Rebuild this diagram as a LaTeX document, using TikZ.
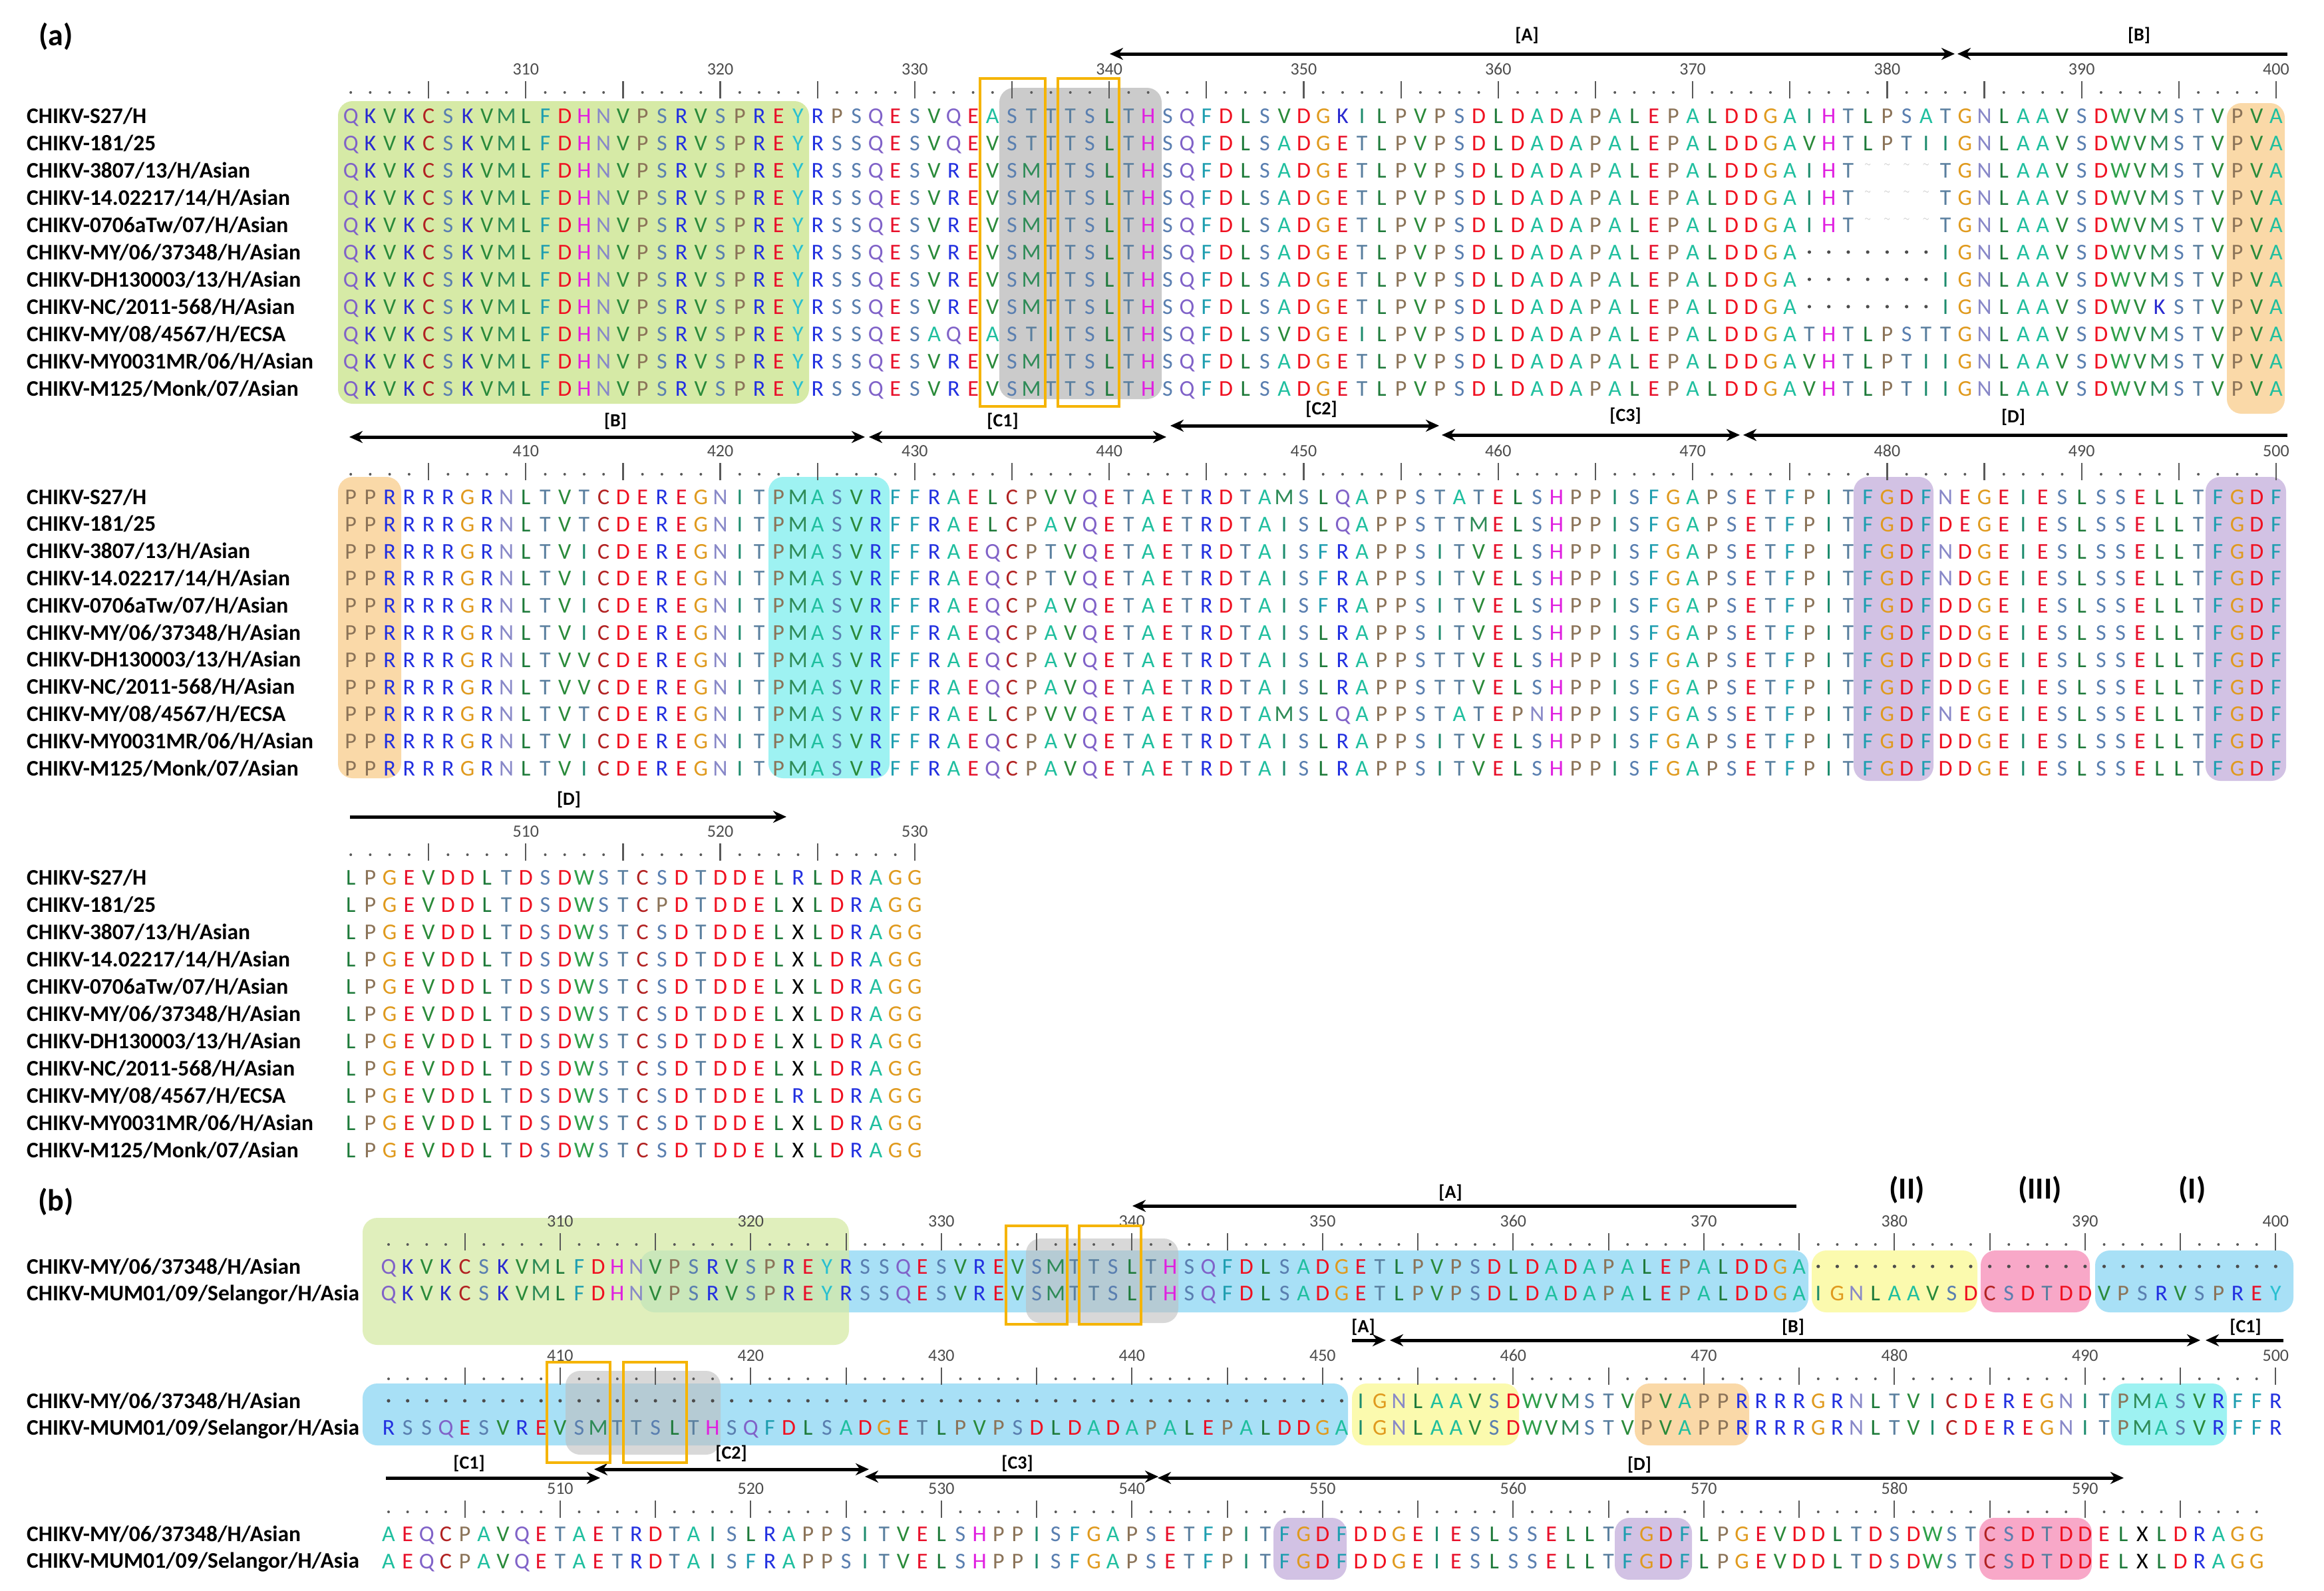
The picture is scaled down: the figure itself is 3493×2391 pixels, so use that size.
\documentclass[tikz,border=0pt]{standalone}
\usepackage{fontspec}
\setmainfont{Carlito}
\usetikzlibrary{arrows.meta}
\definecolor{cA}{HTML}{1FBF9F}\definecolor{cC}{HTML}{B22222}\definecolor{cD}{HTML}{F01020}
\definecolor{cE}{HTML}{E8102A}\definecolor{cF}{HTML}{1E9EB0}\definecolor{cG}{HTML}{E09A1E}
\definecolor{cH}{HTML}{E020E0}\definecolor{cI}{HTML}{1E8C6E}\definecolor{cK}{HTML}{2A2AD0}
\definecolor{cL}{HTML}{1E7A3A}\definecolor{cM}{HTML}{2E8B57}\definecolor{cN}{HTML}{8888C8}
\definecolor{cP}{HTML}{8B7358}\definecolor{cQ}{HTML}{8062C8}\definecolor{cR}{HTML}{2230E0}
\definecolor{cS}{HTML}{5A7FB0}\definecolor{cT}{HTML}{5A7F9F}\definecolor{cV}{HTML}{2A8A3A}
\definecolor{cW}{HTML}{2EA04A}\definecolor{cX}{HTML}{000000}\definecolor{cY}{HTML}{28C0D0}
\definecolor{hgreen}{HTML}{D6EAA6}\definecolor{hgray}{HTML}{BEBEBE}\definecolor{horange}{HTML}{FAD9A8}
\definecolor{hcyan}{HTML}{9EF2F2}\definecolor{hpurple}{HTML}{D2C2E4}\definecolor{hblue}{HTML}{A8E0F6}
\definecolor{hyellow}{HTML}{FBFAAE}\definecolor{hpink}{HTML}{F8A8C8}\definecolor{boxor}{HTML}{F5B400}
\makeatletter
\newcount\seqi
\def\seqdraw#1#2#3#4{\seqi=0 \def\seqx{#1}\def\seqst{#2}\def\seqy{#3}\seq@loop#4\relax}
\def\seq@loop#1{\ifx#1\relax\else\seq@one{#1}\advance\seqi by 1 \expandafter\seq@loop\fi}
\def\seq@one#1{\pgfmathsetmacro\xx{\seqx+\the\seqi*\seqst}%
  \ifx#1-\fill[gapc] (\xx,\seqy) circle (2.6);%
  \else\ifx#1w\node[tilde] at (\xx,\seqy-8) {$\sim$};%
  \else\node[res,text=c#1] at (\xx,\seqy+11) {#1};\fi\fi}
\makeatother
\newcommand\rulerrow[5]{\foreach \p in {#4,...,#5}{%
  \pgfmathsetmacro\rx{#1+(\p-#4)*#2}%
  \pgfmathtruncatemacro\rmo{mod(\p,5)}%
  \pgfmathtruncatemacro\rto{mod(\p,10)}%
  \ifnum\rmo=0 \draw[tick] (\rx,#3-17) -- (\rx,#3+9);\else\fill[rdot] (\rx,#3) circle (2);\fi
  \ifnum\rto=0 \node[rnum] at (\rx,#3-35) {\p};\fi}}
\tikzset{
 res/.style={anchor=base,inner sep=0pt,font=\fontsize{34}{34}\selectfont},
 tilde/.style={inner sep=0pt,text=gray!60,font=\fontsize{12}{12}\selectfont},
 gapc/.style={fill=black!70},
 tick/.style={draw=black!65,line width=2.2},
 rdot/.style={fill=black!65},
 rnum/.style={inner sep=0pt,text=black!70,font=\fontsize{26}{26}\selectfont},
 nm/.style={anchor=base west,inner sep=0pt,font=\bfseries\fontsize{33.5}{33.5}\selectfont},
 lab/.style={inner sep=0pt,font=\bfseries\fontsize{28}{28}\selectfont},
 big/.style={inner sep=0pt,font=\bfseries\fontsize{46}{46}\selectfont},
 hl/.style={rounded corners=22,fill=#1},
 obox/.style={draw=boxor,line width=4.5},
 dimb/.style={line width=5,{Stealth[length=20,width=18]}-{Stealth[length=20,width=18]}},
 diml/.style={line width=5,{Stealth[length=20,width=18]}-},
 dimr/.style={line width=5,-{Stealth[length=20,width=18]}},
}
\begin{document}
\begin{tikzpicture}[x=1pt,y=-1pt]
\useasboundingbox (0,0) rectangle (3493,2391);
\fill[white] (0,0) rectangle (3493,2391);
% ================= (a) =================
\node[big] (la) at (84,55) {(a)};
\fill[hl=hgreen] (508,152) rectangle (1216,607);
\fill[hl=hgray,fill opacity=0.8] (1502,132) rectangle (1746,600);
\fill[hl=horange] (3347,155) rectangle (3434,622);
\fill[hl=horange] (508,717) rectangle (603,1170);
\fill[hl=hcyan] (1155,717) rectangle (1337,1170);
\fill[hl=hpurple] (2786,717) rectangle (2906,1174);
\fill[hl=hpurple] (3315,717) rectangle (3436,1174);
\coordinate (aA1) at (1668,81);\coordinate (aA2) at (2938,81);\coordinate (aB2) at (3438,81);
\draw[dimb] (aA1) -- (aA2);
\draw[diml] (aA2) ++(4,0) coordinate (aB1) -- (aB2);
\node[lab] (tA) at (2295,53) {[A]};
\node[lab] (tB) at (3215,53) {[B]};
\rulerrow{527.2}{29.23}{139}{301}{400}
\rulerrow{527.2}{29.23}{713}{401}{500}
\rulerrow{527.2}{29.23}{1285}{501}{530}
\foreach \n [count=\i from 0] in {CHIKV-S27/H,CHIKV-181/25,CHIKV-3807/13/H/Asian,CHIKV-14.02217/14/H/Asian,CHIKV-0706aTw/07/H/Asian,CHIKV-MY/06/37348/H/Asian,CHIKV-DH130003/13/H/Asian,CHIKV-NC/2011-568/H/Asian,CHIKV-MY/08/4567/H/ECSA,CHIKV-MY0031MR/06/H/Asian,CHIKV-M125/Monk/07/Asian}{
  \node[nm] (na\i) at (40,174+41*\i+11) {\n};
  \node[nm] (nb\i) at (40,747+40.8*\i+11) {\n};
  \node[nm] (nc\i) at (40,1319+41*\i+11) {\n};
}
\seqdraw{527.2}{29.23}{174}{QKVKCSKVMLFDHNVPSRVSPREYRPSQESVQEASTTTSLTHSQFDLSVDGKILPVPSDLDADAPALEPALDDGAIHTLPSATGNLAAVSDWVMSTVPVA}
\seqdraw{527.2}{29.23}{215}{QKVKCSKVMLFDHNVPSRVSPREYRSSQESVQEVSTTTSLTHSQFDLSADGETLPVPSDLDADAPALEPALDDGAVHTLPTIIGNLAAVSDWVMSTVPVA}
\seqdraw{527.2}{29.23}{256}{QKVKCSKVMLFDHNVPSRVSPREYRSSQESVREVSMTTSLTHSQFDLSADGETLPVPSDLDADAPALEPALDDGAIHTwwwwTGNLAAVSDWVMSTVPVA}
\seqdraw{527.2}{29.23}{297}{QKVKCSKVMLFDHNVPSRVSPREYRSSQESVREVSMTTSLTHSQFDLSADGETLPVPSDLDADAPALEPALDDGAIHTwwwwTGNLAAVSDWVMSTVPVA}
\seqdraw{527.2}{29.23}{338}{QKVKCSKVMLFDHNVPSRVSPREYRSSQESVREVSMTTSLTHSQFDLSADGETLPVPSDLDADAPALEPALDDGAIHTwwwwTGNLAAVSDWVMSTVPVA}
\seqdraw{527.2}{29.23}{379}{QKVKCSKVMLFDHNVPSRVSPREYRSSQESVREVSMTTSLTHSQFDLSADGETLPVPSDLDADAPALEPALDDGA-------IGNLAAVSDWVMSTVPVA}
\seqdraw{527.2}{29.23}{420}{QKVKCSKVMLFDHNVPSRVSPREYRSSQESVREVSMTTSLTHSQFDLSADGETLPVPSDLDADAPALEPALDDGA-------IGNLAAVSDWVMSTVPVA}
\seqdraw{527.2}{29.23}{461}{QKVKCSKVMLFDHNVPSRVSPREYRSSQESVREVSMTTSLTHSQFDLSADGETLPVPSDLDADAPALEPALDDGA-------IGNLAAVSDWVKSTVPVA}
\seqdraw{527.2}{29.23}{502}{QKVKCSKVMLFDHNVPSRVSPREYRSSQESAQEASTITSLTHSQFDLSVDGEILPVPSDLDADAPALEPALDDGATHTLPSTTGNLAAVSDWVMSTVPVA}
\seqdraw{527.2}{29.23}{543}{QKVKCSKVMLFDHNVPSRVSPREYRSSQESVREVSMTTSLTHSQFDLSADGETLPVPSDLDADAPALEPALDDGAVHTLPTIIGNLAAVSDWVMSTVPVA}
\seqdraw{527.2}{29.23}{584}{QKVKCSKVMLFDHNVPSRVSPREYRSSQESVREVSMTTSLTHSQFDLSADGETLPVPSDLDADAPALEPALDDGAVHTLPTIIGNLAAVSDWVMSTVPVA}
\draw[obox] (1473,118) rectangle (1571,611);
\draw[obox] (1590,118) rectangle (1682,611);
\draw[dimb] (525,657) coordinate (bB1) -- (1300,657) coordinate (bB2);
\draw[dimb] (1306,657) coordinate (bC1) -- (1753,657) coordinate (bC2);
\draw[dimb] (1759,640) coordinate (bD1) -- (2163,640) coordinate (bD2);
\draw[dimb] (2167,654) coordinate (bE1) -- (2615,654) coordinate (bE2);
\draw[diml] (2620,654) coordinate (bF1) -- (3438,654) coordinate (bF2);
\node[lab] (t2B) at (925,633) {[B]};
\node[lab] (t2C1) at (1507,633) {[C1]};
\node[lab] (t2C2) at (1986,615) {[C2]};
\node[lab] (t2C3) at (2443,625) {[C3]};
\node[lab] (t2D) at (3026,627) {[D]};
\seqdraw{527.2}{29.23}{747}{PPRRRRGRNLTVTCDEREGNITPMASVRFFRAELCPVVQETAETRDTAMSLQAPPSTATELSHPPISFGAPSETFPITFGDFNEGEIESLSSELLTFGDF}
\seqdraw{527.2}{29.23}{788}{PPRRRRGRNLTVTCDEREGNITPMASVRFFRAELCPAVQETAETRDTAISLQAPPSTTMELSHPPISFGAPSETFPITFGDFDEGEIESLSSELLTFGDF}
\seqdraw{527.2}{29.23}{829}{PPRRRRGRNLTVICDEREGNITPMASVRFFRAEQCPTVQETAETRDTAISFRAPPSITVELSHPPISFGAPSETFPITFGDFNDGEIESLSSELLTFGDF}
\seqdraw{527.2}{29.23}{869}{PPRRRRGRNLTVICDEREGNITPMASVRFFRAEQCPTVQETAETRDTAISFRAPPSITVELSHPPISFGAPSETFPITFGDFNDGEIESLSSELLTFGDF}
\seqdraw{527.2}{29.23}{910}{PPRRRRGRNLTVICDEREGNITPMASVRFFRAEQCPAVQETAETRDTAISFRAPPSITVELSHPPISFGAPSETFPITFGDFDDGEIESLSSELLTFGDF}
\seqdraw{527.2}{29.23}{951}{PPRRRRGRNLTVICDEREGNITPMASVRFFRAEQCPAVQETAETRDTAISLRAPPSITVELSHPPISFGAPSETFPITFGDFDDGEIESLSSELLTFGDF}
\seqdraw{527.2}{29.23}{992}{PPRRRRGRNLTVVCDEREGNITPMASVRFFRAEQCPAVQETAETRDTAISLRAPPSTTVELSHPPISFGAPSETFPITFGDFDDGEIESLSSELLTFGDF}
\seqdraw{527.2}{29.23}{1033}{PPRRRRGRNLTVVCDEREGNITPMASVRFFRAEQCPAVQETAETRDTAISLRAPPSTTVELSHPPISFGAPSETFPITFGDFDDGEIESLSSELLTFGDF}
\seqdraw{527.2}{29.23}{1073}{PPRRRRGRNLTVTCDEREGNITPMASVRFFRAELCPVVQETAETRDTAMSLQAPPSTATEPNHPPISFGASSETFPITFGDFNEGEIESLSSELLTFGDF}
\seqdraw{527.2}{29.23}{1114}{PPRRRRGRNLTVICDEREGNITPMASVRFFRAEQCPAVQETAETRDTAISLRAPPSITVELSHPPISFGAPSETFPITFGDFDDGEIESLSSELLTFGDF}
\seqdraw{527.2}{29.23}{1155}{PPRRRRGRNLTVICDEREGNITPMASVRFFRAEQCPAVQETAETRDTAISLRAPPSITVELSHPPISFGAPSETFPITFGDFDDGEIESLSSELLTFGDF}
\draw[dimr] (526,1228) coordinate (cD1) -- (1182,1228) coordinate (cD2);
\node[lab] (t3D) at (855,1202) {[D]};
\seqdraw{527.2}{29.23}{1319}{LPGEVDDLTDSDWSTCSDTDDELRLDRAGG}
\seqdraw{527.2}{29.23}{1360}{LPGEVDDLTDSDWSTCPDTDDELXLDRAGG}
\foreach \i in {2,...,7,9,10}{\seqdraw{527.2}{29.23}{1319+41*\i}{LPGEVDDLTDSDWSTCSDTDDELXLDRAGG}}
\seqdraw{527.2}{29.23}{1647}{LPGEVDDLTDSDWSTCSDTDDELRLDRAGG}
% ================= (b) =================
\node[big] (lb) at (84,1807) {(b)};
\fill[hl=hblue] (962,1880) rectangle (2718,1973);
\fill[hl=hgreen,fill opacity=0.75] (545,1831) rectangle (1276,2022);
\fill[hl=hgray,fill opacity=0.6] (1542,1862) rectangle (1771,1989);
\fill[hl=hyellow] (2723,1880) rectangle (2972,1973);
\fill[hl=hpink] (2977,1880) rectangle (3141,1973);
\fill[hl=hblue] (3149,1880) rectangle (3447,1973);
\fill[hl=hblue] (545,2080) rectangle (2026,2173);
\fill[hl=hgray,fill opacity=0.6] (850,2061) rectangle (1083,2187);
\fill[hl=hyellow] (2032,2080) rectangle (2283,2173);
\fill[hl=horange] (2457,2080) rectangle (2629,2173);
\fill[hl=hcyan] (3173,2080) rectangle (3347,2173);
\fill[hl=hpurple] (1914,2282) rectangle (2024,2375);
\fill[hl=hpurple] (2427,2282) rectangle (2543,2375);
\fill[hl=hpink] (2975,2282) rectangle (3144,2375);
\draw[diml] (1702,1813) coordinate (dA1) -- (2700,1813) coordinate (dA2);
\node[lab] (tbA) at (2180,1793) {[A]};
\node[big] (tII) at (2866,1789) {(II)};
\node[big] (tIII) at (3066,1789) {(III)};
\node[big] (tI) at (3295,1789) {(I)};
\draw[dimr] (2032,2015) coordinate (eA1) -- (2083,2015) coordinate (eA2);
\draw[dimb] (2089,2015) coordinate (eB1) -- (3307,2015) coordinate (eB2);
\draw[diml] (3315,2015) coordinate (eC1) -- (3432,2015) coordinate (eC2);
\node[lab] (tb2A) at (2049,1995) {[A]};
\node[lab] (tb2B) at (2695,1995) {[B]};
\node[lab] (tb2C) at (3375,1995) {[C1]};
\draw[dimr] (580,2222) coordinate (fC1) -- (902,2222) coordinate (fC2);
\draw[dimb] (893,2209) coordinate (fD1) -- (1306,2209) coordinate (fD2);
\draw[dimb] (1300,2220) coordinate (fE1) -- (1741,2220) coordinate (fE2);
\draw[dimb] (1740,2222) coordinate (fF1) -- (3192,2222) coordinate (fF2);
\node[lab] (tb3C1) at (705,2200) {[C1]};
\node[lab] (tb3C2) at (1099,2185) {[C2]};
\node[lab] (tb3C3) at (1529,2200) {[C3]};
\node[lab] (tb3D) at (2464,2202) {[D]};
\rulerrow{584}{28.65}{1871}{301}{400}
\rulerrow{584}{28.65}{2073}{401}{500}
\rulerrow{584}{28.65}{2273}{501}{599}
\foreach \y/\k in {1904/0,2106/1,2306/2}{
  \node[nm] (m\k) at (40,\y+11) {CHIKV-MY/06/37348/H/Asian};
  \node[nm] (u\k) at (40,\y+51) {CHIKV-MUM01/09/Selangor/H/Asia};
}
\seqdraw{584}{28.65}{1904}{QKVKCSKVMLFDHNVPSRVSPREYRSSQESVREVSMTTSLTHSQFDLSADGETLPVPSDLDADAPALEPALDDGA-------------------------}
\seqdraw{584}{28.65}{1944}{QKVKCSKVMLFDHNVPSRVSPREYRSSQESVREVSMTTSLTHSQFDLSADGETLPVPSDLDADAPALEPALDDGAIGNLAAVSDCSDTDDVPSRVSPREY}
\seqdraw{584}{28.65}{2106}{---------------------------------------------------IGNLAAVSDWVMSTVPVAPPRRRRGRNLTVICDEREGNITPMASVRFFR}
\seqdraw{584}{28.65}{2146}{RSSQESVREVSMTTSLTHSQFDLSADGETLPVPSDLDADAPALEPALDDGAIGNLAAVSDWVMSTVPVAPPRRRRGRNLTVICDEREGNITPMASVRFFR}
\seqdraw{584}{28.65}{2306}{AEQCPAVQETAETRDTAISLRAPPSITVELSHPPISFGAPSETFPITFGDFDDGEIESLSSELLTFGDFLPGEVDDLTDSDWSTCSDTDDELXLDRAGG}
\seqdraw{584}{28.65}{2347}{AEQCPAVQETAETRDTAISFRAPPSITVELSHPPISFGAPSETFPITFGDFDDGEIESLSSELLTFGDFLPGEVDDLTDSDWSTCSDTDDELXLDRAGG}
\draw[obox] (1512,1843) rectangle (1604,1991);
\draw[obox] (1622,1843) rectangle (1715,1991);
\draw[obox] (822,2048) rectangle (917,2199);
\draw[obox] (937,2048) rectangle (1032,2199);
\end{tikzpicture}
\end{document}
